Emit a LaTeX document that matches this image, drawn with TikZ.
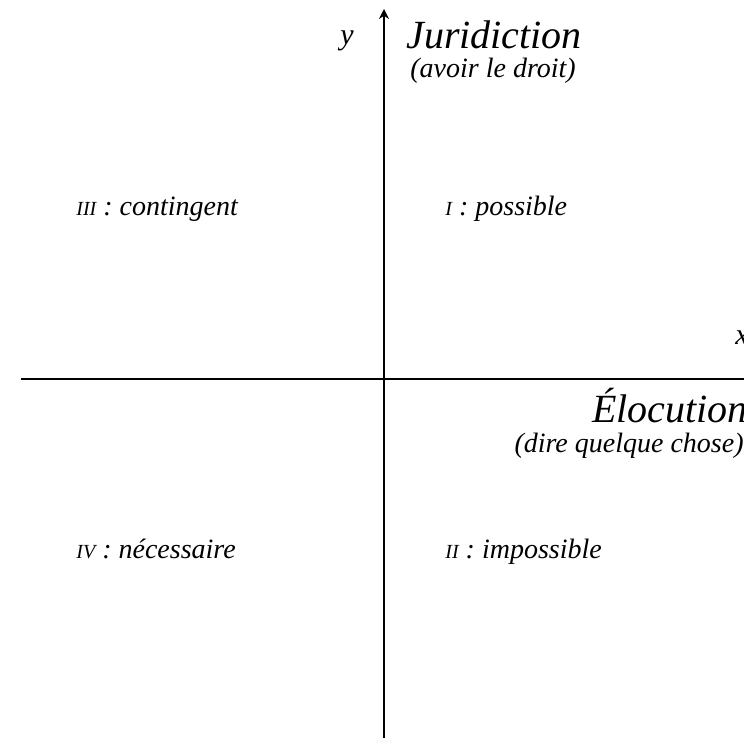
\documentclass[tikz,border=0pt]{standalone}
\usepackage{fontspec}
\setmainfont{Liberation Serif}
\usetikzlibrary{arrows.meta}

% small capital numerals for the quadrants
\newcommand{\quadno}[1]{{\fontsize{10}{12}\selectfont #1}}

\begin{document}
\begin{tikzpicture}[x = 0.5pt, y = -0.5pt,
                    every node/.style = {font = \itshape\fontsize{14}{16}\selectfont, inner sep = 0pt},
                    axis/.style = {line width = 1pt, -{Stealth[length = 5pt, width = 5pt]}},
                    title/.style = {font = \itshape\fontsize{20}{22}\selectfont}]
      \useasboundingbox (0, 0) rectangle (744, 738);
      \clip (0, 0) rectangle (744, 738);

      % axes
      \coordinate (xl) at (21, 379);
      \coordinate (xr) at (770, 379);
      \coordinate (yb) at (384, 745);
      \coordinate (yt) at (384, 9);
      \draw [axis] (xl) -- (xr);
      \draw [axis] (yb) -- (yt);

      \node (ylab) at (347, 41) {\fontsize{15}{16}\selectfont y};
      \node (xlab) [anchor = west] at (735, 338) {\fontsize{15}{16}\selectfont x};

      \node (jur) [title, anchor = base west] at (406, 49) {Juridiction};
      \node (jurd) [anchor = base west] at (410, 78) {(avoir le droit)};

      \node (elo) [title, anchor = base east] at (748, 422) {Élocution};
      \node (elod) [anchor = base east] at (744, 452) {(dire quelque chose)};

      % quadrants
      \node (q3) [anchor = base west] at (76, 215) {\quadno{III} : contingent};
      \node (q1) [anchor = base west] at (445, 215) {\quadno{I} : possible};
      \node (q4) [anchor = base west] at (76, 558) {\quadno{IV} : nécessaire};
      \node (q2) [anchor = base west] at (445, 558) {\quadno{II} : impossible};
    \end{tikzpicture}
\end{document}
